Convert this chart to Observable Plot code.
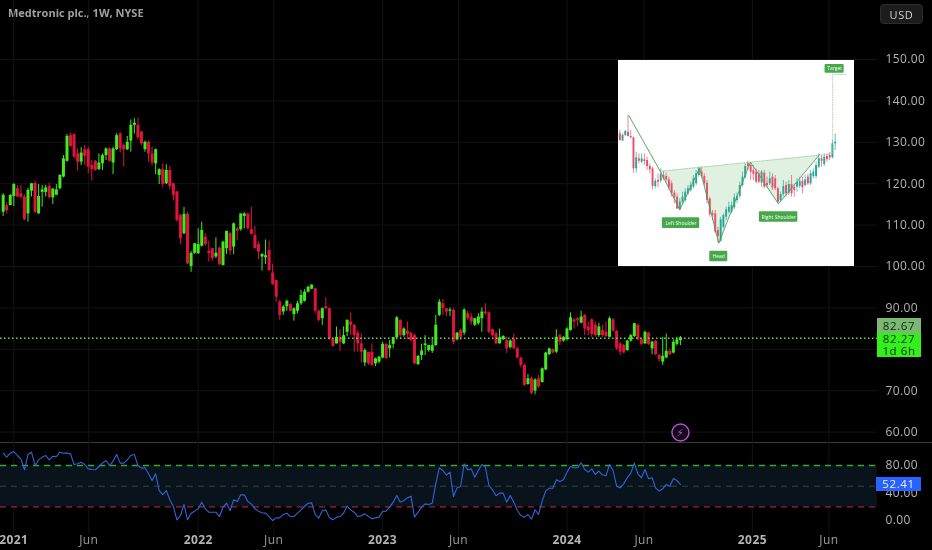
<!DOCTYPE html>
<html><head><meta charset="utf-8">
<script src="https://cdn.jsdelivr.net/npm/d3@7"></script>
<script src="https://cdn.jsdelivr.net/npm/@observablehq/plot@0.6"></script>
<style>
html,body{margin:0;padding:0;background:#000;width:932px;height:550px;overflow:hidden}
#chart{position:relative;width:932px;height:550px;overflow:hidden;background:#000;font-family:"Open Sans",sans-serif;filter:blur(0.3px)}
#chart svg{position:absolute;display:block}
.tag{position:absolute;box-sizing:border-box;text-align:center;font-size:11.5px;letter-spacing:.6px}
#title{position:absolute;left:8px;top:5px;font-size:11px;font-weight:700;color:#a0a0a0;white-space:nowrap}
#usd{left:880px;top:4px;width:43px;height:20px;line-height:19px;background:#1c1c1c;border:1px solid #2c2c2c;border-radius:4px;color:#cfcfcf;font-size:11px}
#sep{position:absolute;left:0;top:442px;width:932px;height:1px;background:#3a3a3a}
</style></head>
<body><div id="chart">
<div id="title">Medtronic plc., 1W, NYSE</div>
<div id="sep"></div>
</div>
<script>
const firstWeek = "2020-12-14";
const open = [
113.1,114.7,114.7,116.9,118.8,117.6,116.8,112.7,118.2,120.1,
112.7,117.9,117.9,119.3,116.6,117.2,118.8,121.6,125.4,131.6,
131.9,127.2,125.2,128.2,128.2,124.4,125.4,123.4,124.8,126.8,
128.4,125,128.2,132.05,129.2,128.2,130.3,134.1,134.1,132.5,
128.2,130,127.2,124.8,122,123.4,120,123.2,120,118,
112.3,107.9,112.6,100,103.2,103.1,104.9,107.1,103.7,104.3,
102.3,104.4,100.2,104.3,107.9,104.7,109.1,108.9,112.1,112.7,
108.9,107.5,105.3,102.3,102.1,103.9,98.4,96.6,91.4,89,
90.3,90.8,88.4,89.2,91,91.6,93.8,94.5,94.6,89.2,
87.4,90.3,89.8,82.5,81.3,82.9,81.3,84.1,86.6,85.8,
83.9,81.3,76.7,79.3,79.3,76.5,76.9,77.9,81.2,80.1,
81.2,82.8,87,83.3,84.4,83.9,83.3,76.3,78.5,80.9,
79.7,79.5,80.9,88.2,91,89.8,89.2,89.4,82.3,84.5,
83.9,88.6,87.8,85.8,86.2,87.4,89,88.8,84.7,83.7,
81.3,82.3,82.1,80.4,82.5,80.1,77.9,76.1,71.5,72.9,
69.9,72.9,72,75,78.7,79.9,79.3,83.3,82,82.3,
84.5,87.1,87.4,86.3,88.2,85.4,87.1,85.8,83.3,84.5,
84.1,82.9,87.1,84.4,81.3,80.9,79.7,82,83.1,85.8,
82.3,81.3,83.9,80.1,82,78.5,76.9,77.9,79.5,79.1,81.2,82.1];
const high = [
117.6,115.5,117.3,120,119.6,119.6,117.3,118.8,120,120.6,
119.8,119.6,119.6,120.1,118.8,119.8,122.2,126.8,131.9,132.2,
132.05,128.4,128.7,129.2,128.8,125.6,125.6,127.2,127.2,128.7,
128.7,128.8,132.05,132.3,129.6,131.4,135.4,135.7,135.9,132.6,
130.3,130.3,128.8,128.4,123.6,124.8,124.6,124.2,120.1,118.2,
112.6,114.3,113.1,103.6,105.6,109.1,110.7,108,106.1,104.3,
106.9,104.7,106.1,108.5,108.3,110.5,109.5,112.7,113,112.9,
114.3,109.7,105.9,103.1,106.4,106.1,100.6,96.6,91.8,90.6,
91.9,91,90,91.6,94.2,94.4,95.2,95.6,94.8,89.5,
90,92.4,90,82.8,85.4,84.7,85.4,87.1,88.8,86,
84.5,83.7,80.1,79.3,81.3,77.9,78.3,81.7,81.3,82.1,
82.9,87.9,87.1,85.2,86.6,84.1,83.7,78.5,81.2,83.3,
80.9,82.9,88.2,92,92,89.8,90,89.8,84.1,84.9,
89.8,89.2,88.6,87.4,88.6,90,91,89,84.9,84.1,
84.9,83.3,82.9,82.3,83.7,80.5,78.1,76.5,73.9,73.3,
72.9,73.7,75.5,79.3,80.3,80.1,84.7,83.7,83.1,85.2,
88.8,87.4,87.6,89.2,88.4,86.6,87.4,86.6,86.3,85.8,
86.6,87.8,87.4,84.5,81.7,81.2,82.1,83.6,86.3,86,
82.8,84.4,84.1,82,82.1,78.9,82.9,83.7,80.1,82.3,82.9,83.1];
const low = [
112.1,112.7,114.7,114.5,116.6,116.6,111.1,110.7,116.8,112.7,
112.6,114.3,116.8,116.3,115,117.2,118.5,121.4,125.2,128.8,
126,123,124.4,124.4,122.4,120.6,123,123.2,123.2,125.6,
125.2,122.2,128,127.4,124,128,127.6,132,130.6,129.2,
127.6,125.2,124.2,122.2,119.8,119,119.8,118.5,115.8,110.7,
105.3,107.7,100.5,98.6,102.9,102.9,104.7,104.8,101.1,101.3,
101.9,100.2,100.2,102.9,102.7,102.9,106.3,108.5,109.1,108.9,
107.7,104.3,101.6,98.9,100.5,98.9,95.4,91.4,87,88.2,
89.2,89,86.8,88.6,90.6,91.4,93.6,94.4,88.6,86.6,
85.8,89.5,82.1,80.5,81.3,79.5,81.2,83.1,83.3,79.3,
79.3,76.7,75.8,76.1,75.8,75.8,76.5,77.7,77.7,77.9,
80.1,82.5,82.3,82.9,82.3,81.7,76.3,76.1,77.3,78.5,
79.3,79,80.7,87.9,88.2,87.9,87.9,81.2,82,82.1,
83.3,87,85.8,85.5,85.8,84.1,88.2,83.7,82.9,81.2,
81.3,82.1,79,80.1,80.1,77.7,75.5,71,71.3,69,
69,70.5,71.8,74.9,78.5,78.9,79,80.9,81.7,82,
84.4,84.9,85.4,86.2,83.3,83.3,82.8,82.9,82.9,82.8,
82.9,82.8,84.1,79.7,78.5,78.9,79.5,81.7,82.8,82.1,
80.9,81.2,80.9,78.7,78.5,76.9,76.1,77.7,78.5,78.9,80.8,80.9];
const close = [
117.2,113.5,117.2,119.8,116.8,116.6,111.3,118.4,120,113.1,
116.9,118.5,119,116.6,118.7,118.5,122,126,131.4,129,
126.4,125.2,127.4,126.6,124,123.4,123.2,125,126.8,128.4,
125.4,128.4,131.6,128.4,128.2,130,134.1,134.6,131.1,129.6,
130,127.2,125,128.2,123.4,119.8,123.2,119.3,117.2,111.1,
106.7,112.6,100.6,103.2,105.5,105.3,108.7,105.3,103.1,101.9,
103.2,100.5,105.9,108.5,103.7,110.3,108.5,112.7,112.7,109.1,
107.7,104.3,103.5,102.9,102.6,99,95.7,92.6,88.2,90.2,
91.6,89.2,89.8,91,93,93.8,95,95.5,89.2,87,
89.8,89.8,82.5,80.7,82.9,81.7,83.3,87,85.8,83.3,
81.3,79.3,79.7,76.5,76.1,77.7,78.1,81.2,77.7,80.9,
82.8,87.6,83.3,84.9,83.6,82.1,76.5,78.3,79.6,81.3,
80.9,80.9,85.8,91.4,89.8,89,89.5,81.7,83.9,82.9,
89.5,87.4,86.6,87.4,87.8,89,88.6,84.1,83.3,81.3,
82.8,83.1,80.1,82,80.1,77.9,76.1,71.3,72.9,69.4,
72.6,70.9,75.3,79.1,80.1,79.1,82.9,81.7,82.8,84.9,
87.6,86.6,87,87.8,84.9,84.5,83.6,83.3,85.4,83.3,
83.1,87.4,84.4,80.1,79.3,79.1,82,83.3,86.2,82.3,
81.2,84.1,81.2,81.7,78.7,77.5,78.3,79.5,78.7,81.7,82.3,82.8];
const rsi = [
98,92.2,98,100.4,94.6,89.8,73.8,96,99.4,80,88.3,92.2,94.6,88.3,93.6,93.1,99.4,98,98,97,
81.5,82.5,84.9,81.5,75.2,74.2,73.8,78.6,83.5,87.3,80,86.4,96,83.5,83.5,88.3,94.6,96,80,76.2,
76.7,68,58.3,68,43.7,37.9,43.7,30.2,20.5,1.1,7.4,23.4,1.1,10.8,13.7,17.1,26.8,17.1,12.2,12.2,
12.2,5.9,19.5,25.3,14.7,30.2,27.7,37.4,37.4,27.7,24.3,17.1,13.7,11.3,10.8,5.9,0.1,4,4,8.8,
10.8,5.9,5.9,10.8,15.6,20.5,25.3,25.8,8.8,3.5,14.7,15.6,4,1.1,5,5.9,10.8,21,15.6,12.2,
5.9,6.9,9.8,5.9,2.5,4,5,13.2,13.7,19.5,26.8,36.5,26.8,29.2,33.1,35.5,5,12.2,19.5,24.3,
23.4,25.3,53.4,76.7,72.8,66,70.4,
35,47.6,49.6,82.5,73.8,75.2,63.1,72.8,81.5,77.7,51,44.7,36,39.9,39.9,26.8,36.5,26.8,14.7,7.4,
5,8.9,2.1,15.7,8.9,28.3,42.8,47.1,47.1,59.3,56.8,59.3,70.4,78.6,76.7,76.7,84,74.3,70.4,75.2,
67,71.9,66.5,65.1,81.5,72.8,50,47.6,53.4,62.2,68.9,83.5,68,62.2,74.3,60.7,62.2,47.6,42.8,46.2,
52.5,49.6,61.2,58.3,52.41];
const priceGrid = [60,70,80,90,100,110,120,130,140,150];
const priceTicks = [60,70,90,100,110,120,130,140,150];
const rsiTicks = [0,40,80];
const yearTicks = ["2021-01-04","2022-01-03","2023-01-02","2024-01-01","2025-01-01"];
const yearLabels = ["2021","2022","2023","2024","2025"];
const juneTicks = ["2021-06-01","2022-06-01","2023-06-01","2024-06-01","2025-06-01"];
const lastPrice = 82.67;
const lastClose = 82.27;
const lastRsi = 52.41;

// inset picture of the head and shoulders pattern
const insetOpen = [
250,272,255,245,258,262,355,325,335,328,
330,348,355,408,390,392,375,378,388,400,
428,440,478,455,450,430,420,410,400,375,
365,378,398,445,490,490,540,572,530,500,
485,485,472,450,438,405,382,340,345,360,
365,370,398,368,398,400,380,385,415,450,
432,405,428,402,410,410,408,392,405,380,
400,378,378,350,325,342,318,315,322,280];
const insetClose = [
270,255,243,258,262,355,322,332,325,333,
348,358,408,392,395,372,385,388,412,430,
442,475,455,440,425,415,405,385,370,355,
378,400,450,492,495,545,558,508,495,478,
470,465,442,438,405,380,348,348,365,372,
395,395,365,410,405,385,412,415,455,432,
408,430,402,430,420,395,392,412,388,400,
370,365,345,325,332,320,328,322,280,275];
const insetHigh = [
240,250,240,195,240,260,305,310,310,310,
320,340,350,385,370,355,362,368,380,392,
420,430,445,425,415,405,395,375,360,350,
350,370,390,440,480,480,530,500,490,470,
455,455,430,428,395,365,340,332,338,345,
355,360,360,360,380,365,370,375,410,425,
390,395,390,375,400,385,380,380,375,370,
360,355,335,310,315,310,310,305,270,250];
const insetLow = [
272,272,258,260,265,368,368,340,340,345,
360,370,418,415,412,398,390,395,420,440,
460,478,480,460,455,435,425,415,405,380,
385,405,460,500,510,550,578,575,535,510,
490,490,478,460,445,410,385,360,390,390,
400,400,410,415,412,405,420,420,458,455,
440,440,435,440,440,425,415,430,410,405,
405,385,385,355,350,348,335,330,325,300];
const zigBar = [3.3,15.5,22,29.3,36.3,47.9,58.2,73.3];
const zigLevel = [195,372,478,352,578,335,460,312];
const fillBar = [15.5,22,29.3,36.3,47.9,58.2,73.3];
const fillNeck = [362,356.6,350.5,344.7,335.1,326.6,314];
const fillBase = [362,478,350.5,578,335.1,460,314];
const neckBar = [15.5,78.1,78.1,83];
const neckLevel = [362,310,72,72];
const insetLabels = ["Left Shoulder","Head","Right Shoulder","Target"];
const labelBar1 = [15.6,33,51.2,75.3];
const labelBar2 = [29.3,39.6,65.3,82.3];
const labelLevel1 = [502,602,484,42];
const labelLevel2 = [534,634,515,68];

const up = "#42ea1e", down = "#e0133f", grid = "#131415", axisText = "#b4b4b4";
const fontStyle = {background:"transparent", color:axisText, fontFamily:'"Open Sans",sans-serif', fontSize:"12px", letterSpacing:"0.4px"};
const xDomain = [new Date("2020-12-08T18:00Z"), new Date("2025-09-05T00:00Z")];
const t0 = new Date(firstWeek+"T00:00Z");
const bars = open.map((o,i)=>({date:d3.utcDay.offset(t0,7*i),open:o,high:high[i],low:low[i],close:close[i]}));
const rsiRows = rsi.map((v,i)=>({date:bars[i+open.length-rsi.length].date,v}));
const asDates = a=>a.map(s=>new Date(s+"T00:00Z"));
const allX = asDates(yearTicks.concat(juneTicks));
const col = d=>d.close>=d.open?up:down;

const main = Plot.plot({
  width:932,height:442,marginTop:0,marginBottom:0,marginLeft:0,marginRight:55,
  style:fontStyle,
  x:{type:"utc",domain:xDomain,axis:null},
  y:{domain:[57.49,164.25],axis:null},
  color:{type:"identity"},
  marks:[
    Plot.gridY(priceGrid,{stroke:grid,strokeOpacity:1}),
    Plot.gridX(allX,{stroke:grid,strokeOpacity:1}),
    Plot.axisY(priceTicks,{anchor:"right",tickSize:0,tickPadding:8,tickFormat:d3.format(".2f"),label:null}),
    Plot.ruleX(bars,{x:"date",y1:"low",y2:"high",stroke:col,strokeWidth:1}),
    Plot.ruleX(bars,{x:"date",y1:"open",y2:"close",stroke:col,strokeWidth:3}),
    Plot.ruleY([lastPrice],{stroke:"#68d850",strokeDasharray:"1.5 2.5",strokeWidth:1.3}),
    Plot.dot([bars[bars.length-1]],{x:"date",y:()=>59.9,r:8.5,stroke:"#b552d6",strokeWidth:1.4,fill:"#120818"}),
    Plot.text([bars[bars.length-1]],{x:"date",y:()=>59.9,text:()=>"\u26A1",fill:"#b552d6",fontSize:10,fontFamily:"DejaVu Sans"})
  ]
});
main.style.left="0";main.style.top="0";

const lower = Plot.plot({
  width:932,height:86,marginTop:0,marginBottom:0,marginLeft:0,marginRight:55,
  style:fontStyle,
  x:{type:"utc",domain:xDomain,axis:null},
  y:{domain:[-11.5,113.5],axis:null},
  marks:[
    Plot.gridX(allX,{stroke:grid,strokeOpacity:1}),
    Plot.rect([{}],{x1:()=>xDomain[0],x2:()=>xDomain[1],y1:()=>20,y2:()=>80,fill:"#08131c"}),
    Plot.ruleY([80],{stroke:"#35ac2c",strokeDasharray:"6 5",strokeWidth:1.5}),
    Plot.ruleY([50],{stroke:"#38424a",strokeDasharray:"6 5"}),
    Plot.ruleY([20],{stroke:"#a81c44",strokeDasharray:"6 5",strokeWidth:1.2}),
    Plot.axisY(rsiTicks,{anchor:"right",tickSize:0,tickPadding:8,tickFormat:d3.format(".2f"),label:null}),
    Plot.line(rsiRows,{x:"date",y:"v",stroke:"#2f66d8",strokeWidth:1.1})
  ]
});
lower.style.left="0";lower.style.top="442px";

const axisRow = Plot.plot({
  width:932,height:22,marginTop:0,marginBottom:0,marginLeft:0,marginRight:55,
  style:fontStyle,
  x:{type:"utc",domain:xDomain,axis:null},
  y:{domain:[0,1],axis:null},
  marks:[
    Plot.gridX(allX,{stroke:grid,strokeOpacity:1,y1:()=>0.7,y2:()=>1}),
    Plot.text(asDates(yearTicks),{x:d=>d,y:()=>0.45,text:(d,i)=>yearLabels[i],fontWeight:700,fill:axisText,fontSize:12,lineAnchor:"middle"}),
    Plot.text(asDates(juneTicks),{x:d=>d,y:()=>0.45,text:()=>"Jun",fill:"#9c9c9c",fontSize:12,lineAnchor:"middle"})
  ]
});
axisRow.style.left="0";axisRow.style.top="528px";

const insetBars = insetOpen.map((o,i)=>({i,open:o,close:insetClose[i],high:insetHigh[i],low:insetLow[i]}));
const insetCol = d=>d.close<d.open?"#26a69a":"#ea4f6a";
const zig = zigBar.map((x,i)=>({x,y:zigLevel[i]}));
const shade = fillBar.map((x,i)=>({x,a:fillNeck[i],b:fillBase[i]}));
const neck = neckBar.map((x,i)=>({x,y:neckLevel[i]}));
const labelRows = insetLabels.map((t,i)=>({t,x1:labelBar1[i],x2:labelBar2[i],y1:labelLevel1[i],y2:labelLevel2[i],xm:(labelBar1[i]+labelBar2[i])/2,ym:(labelLevel1[i]+labelLevel2[i])/2}));
const inset = Plot.plot({
  width:236,height:206,margin:0,
  style:{background:"#fff",fontFamily:'"Open Sans",sans-serif',left:"618px",top:"60px"},
  x:{domain:[-0.49,86.1],axis:null},
  y:{domain:[648,30],axis:null},
  color:{type:"identity"},
  marks:[
    Plot.areaY(shade,{x:"x",y1:"a",y2:"b",fill:"#e0f0e1"}),
    Plot.ruleX(insetBars,{x:"i",y1:"low",y2:"high",stroke:insetCol,strokeWidth:0.7}),
    Plot.ruleX(insetBars,{x:"i",y1:"open",y2:"close",stroke:insetCol,strokeWidth:1.9}),
    Plot.line(zig,{x:"x",y:"y",stroke:"#4a9d4e",strokeWidth:0.9}),
    Plot.line(neck,{x:"x",y:"y",stroke:"#8fc392",strokeWidth:0.7,strokeDasharray:"1 1.5"}),
    Plot.rect(labelRows,{x1:"x1",x2:"x2",y1:"y1",y2:"y2",fill:"#46a84a",rx:1}),
    Plot.text(labelRows,{x:"xm",y:"ym",text:"t",fill:"#fff",fontSize:5})
  ]
});

const c = document.getElementById("chart");
c.append(main,lower,axisRow,inset);
function tag(text,left,top,w,h,bg,fg,lh){
  const d=document.createElement("div");d.className="tag";
  d.style.cssText=`left:${left}px;top:${top}px;width:${w}px;height:${h}px;background:${bg};color:${fg};line-height:${lh}px`;
  d.innerHTML=text;c.append(d);return d;
}
tag(lastPrice.toFixed(2),877,318,44,15,"#7cb874","#0b2a0b",15);
tag(lastClose.toFixed(2)+"<br>1d 6h",877,333,44,24,"#33ef1c","#0a2f0a",12);
tag(lastRsi.toFixed(2),876,477,45,14,"#2962ff","#e8eeff",14);
const u=document.createElement("div");u.className="tag";u.id="usd";u.textContent="USD";c.append(u);
</script>
</body></html>
